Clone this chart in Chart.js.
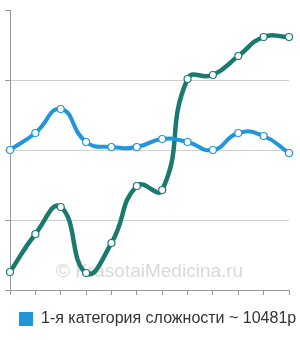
<!DOCTYPE html>
<html>
<head>
<meta charset="utf-8">
<script src="https://cdn.jsdelivr.net/npm/chart.js@4/dist/chart.umd.min.js"></script>
<style>
html,body{margin:0;padding:0;background:#fff;}
#wrap{position:relative;width:300px;height:340px;}
</style>
</head>
<body>
<div id="wrap"><canvas id="c" width="300" height="340"></canvas></div>
<script>
const categories = ["1","2","3","4","5","6","7","8","9","10","11","12"];
const seriesBlue = [10000, 11214, 12929, 10571, 10214, 10214, 10786, 10571, 10000, 11214, 11000, 9786];
const seriesTeal = [1286, 4000, 5929, 1214, 3357, 7429, 7143, 15071, 15357, 16714, 18071, 18071];
const legendLabel = "1-я категория сложности ~ 10481р";
const watermark = "© KrasotaiMedicina.ru";
const yMin = 0, yMax = 20000, yStep = 5000;

const blue = "#2196d9";
const teal = "#1b7a70";

const watermarkPlugin = {
  id: "wm",
  afterLayout(chart) {
    if (chart.legend) {
      chart.legend.right = chart.width;
      chart.legend.width = chart.legend.right - chart.legend.left;
    }
  },
  beforeDatasetsDraw(chart) {
    const ctx = chart.ctx;
    ctx.save();
    ctx.font = "19px 'Liberation Sans', Arial, sans-serif";
    ctx.fillStyle = "#d9d9d9";
    ctx.textBaseline = "middle";
    ctx.textAlign = "left";
    ctx.fillText(watermark, 56, 272);
    ctx.restore();
  }
};

new Chart(document.getElementById("c"), {
  type: "line",
  data: {
    labels: categories,
    datasets: [
      {
        label: legendLabel,
        data: seriesBlue,
        borderColor: blue,
        backgroundColor: blue,
        borderWidth: 4,
        tension: 0.5,
        pointRadius: 3.5,
        pointBackgroundColor: "#fff",
        pointBorderColor: blue,
        pointBorderWidth: 1.2
      },
      {
        label: "teal",
        data: seriesTeal,
        borderColor: teal,
        backgroundColor: teal,
        borderWidth: 4.5,
        tension: 0.5,
        pointRadius: 3.5,
        pointBackgroundColor: "#fff",
        pointBorderColor: teal,
        pointBorderWidth: 1.2
      }
    ]
  },
  options: {
    responsive: false,
    animation: false,
    devicePixelRatio: 1,
    layout: { padding: { left: 5, right: 11, top: 10, bottom: 3 } },
    plugins: {
      tooltip: { enabled: false },
      legend: {
        display: true,
        position: "bottom",
        align: "start",
        labels: {
          boxWidth: 14,
          boxHeight: 14,
          padding: 14,
          color: "#333",
          font: { family: "'Liberation Sans', Arial, sans-serif", size: 16 },
          generateLabels: (chart) => [{
            text: legendLabel,
            fillStyle: blue,
            strokeStyle: blue,
            lineWidth: 0,
            datasetIndex: 0,
            fontColor: "#333"
          }]
        }
      }
    },
    scales: {
      x: {
        offset: false,
        grid: { display: true, drawOnChartArea: false, drawTicks: true, tickLength: 5, color: "#999" },
        border: { display: true, color: "#999", width: 1 },
        ticks: { display: false },
        afterFit: (scale) => { scale.height += 2; }
      },
      y: {
        min: yMin, max: yMax,
        ticks: { display: false, stepSize: yStep },
        grid: {
          drawTicks: true, tickLength: 5,
          color: (ctx) => (ctx.tick && (ctx.tick.value === yMax || ctx.tick.value === yMin)) ? "rgba(0,0,0,0)" : "#d0d0d0",
          tickColor: "#999"
        },
        border: { display: true, color: "#999", width: 1 }
      }
    }
  },
  plugins: [watermarkPlugin]
});
</script>
</body>
</html>
